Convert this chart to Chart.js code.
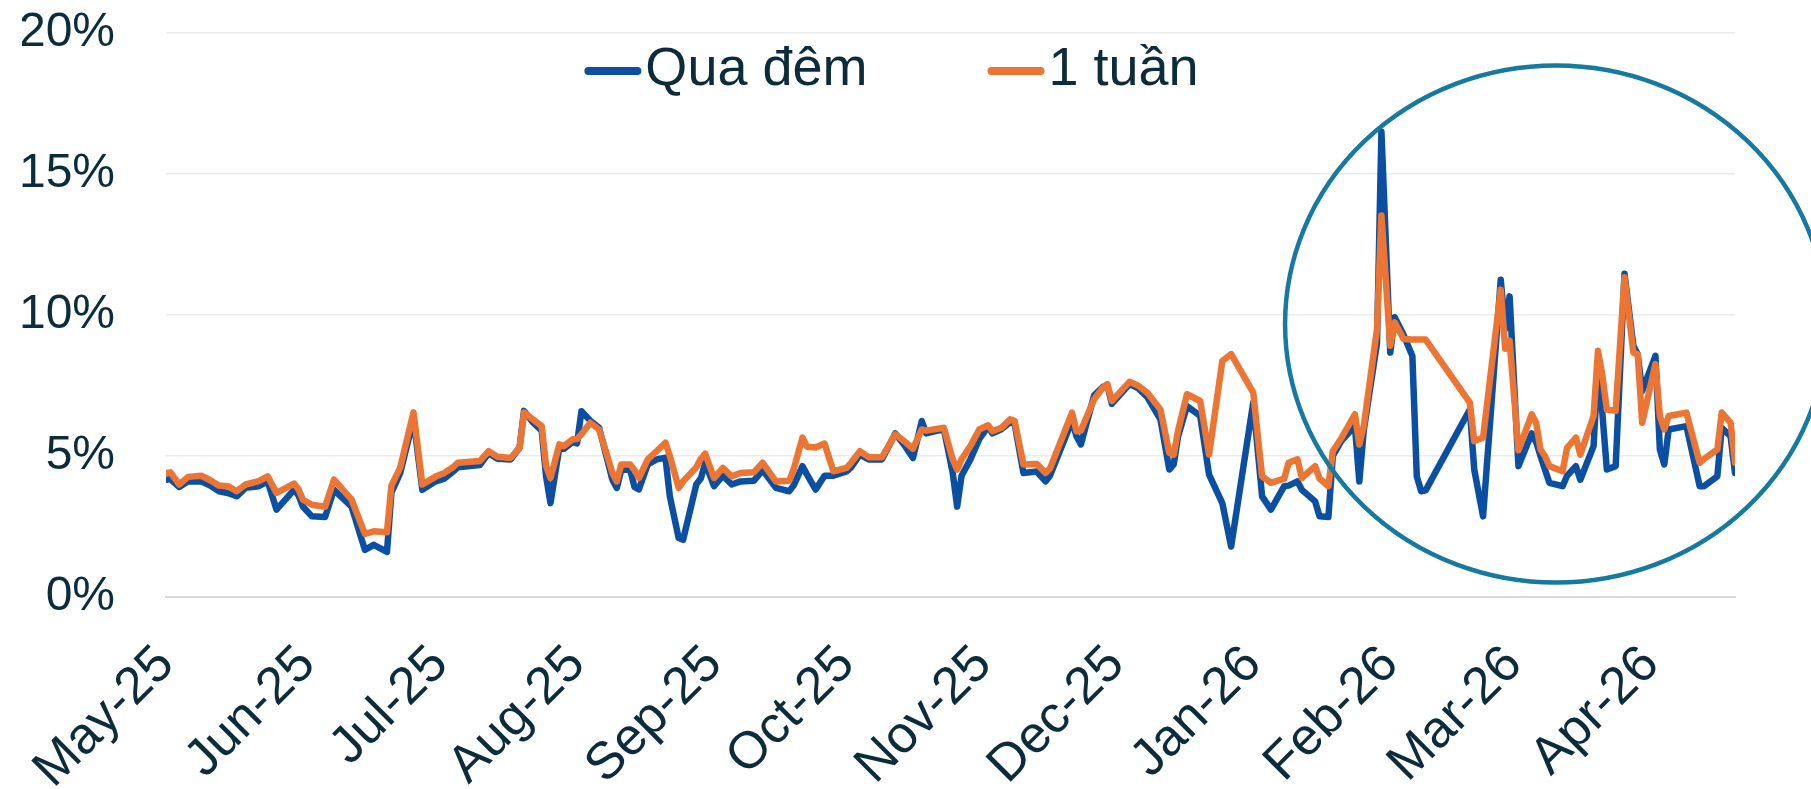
<!DOCTYPE html>
<html>
<head>
<meta charset="utf-8">
<script src="https://cdn.jsdelivr.net/npm/chart.js@4/dist/chart.umd.min.js"></script>
<style>
  html, body { margin: 0; padding: 0; background: #fff; }
  #chart { display: block; }
</style>
</head>
<body>
<canvas id="chart" width="1811" height="789"></canvas>
<script>
// days counted from 30 Apr 2025
var days = [0,1,3,5,8,10,12,14,16,18,21,23,25,29,30,31,33,36,38,42,45,47,50,51,53,56,58,61,
  63,65,66,71,73,75,78,80,81,83,85,86,87,89,90,92,93,94,96,98,101,102,103,105,106,107,109,111,113,114,116,117,
  120,121,122,124,126,128,130,133,135,138,141,142,144,145,147,149,151,154,155,157,159,162,165,167,169,171,172,176,178,179,180,
  182,184,186,187,189,191,192,194,197,199,200,205,206,207,210,212,213,214,218,220,222,225,227,228,229,231,234,236,239,241,
  246,248,250,253,254,256,257,260,261,263,264,266,269,270,271,274,275,277,278,280,282,283,284,285,
  295,296,298,302,303,304,306,309,310,311,312,313,316,317,319,320,323,324,325,326,328,330,332,333,334,337,338,339,340,344,347,348,351,352,354,355];

// Qua đêm (overnight), %
var overnight = [4.16,4.18,3.90,4.10,4.10,3.95,3.75,3.69,3.57,3.87,3.93,4.10,3.10,3.81,3.60,3.20,2.86,2.84,3.80,3.20,1.67,1.85,1.60,3.70,4.40,6.30,3.80,4.10,
  4.20,4.45,4.60,4.68,5.10,4.90,4.88,5.30,6.60,6.20,5.90,4.27,3.33,5.30,5.25,5.50,5.45,6.59,6.25,6.00,4.16,3.87,4.50,4.52,3.90,3.82,4.70,4.88,4.94,3.57,2.09,2.03,
  4.00,4.20,4.76,3.93,4.30,3.99,4.10,4.12,4.50,3.87,3.75,3.95,4.64,4.35,3.81,4.30,4.30,4.45,4.60,5.05,4.88,4.88,5.80,5.40,4.93,6.24,5.80,5.95,4.40,3.21,4.30,
  4.88,5.60,6.05,5.80,5.95,6.20,6.15,4.40,4.45,4.10,4.30,6.25,5.70,5.41,7.15,7.45,7.50,6.85,7.55,7.40,7.10,6.30,4.52,4.70,5.70,6.77,6.42,4.34,3.33,1.79,
  6.90,3.57,3.10,3.93,3.95,4.10,3.80,3.39,2.86,2.84,5.00,5.55,6.06,4.10,5.90,9.00,16.50,8.67,9.92,9.30,8.55,4.28,3.75,3.78,
  6.65,4.52,2.86,11.25,9.50,10.66,4.64,5.80,5.50,5.00,4.52,4.05,3.93,4.30,4.64,4.16,5.35,8.20,6.50,4.52,4.64,11.46,8.91,8.60,7.30,8.55,5.23,4.70,5.94,6.06,3.93,3.93,4.28,6.00,5.70,4.40];

// 1 tuần (one week), %
var oneWeek = [4.40,4.42,3.99,4.26,4.30,4.14,3.95,3.93,3.75,3.99,4.11,4.28,3.69,4.02,3.81,3.45,3.27,3.20,4.16,3.45,2.24,2.33,2.30,3.95,4.59,6.55,3.99,4.27,
  4.40,4.61,4.76,4.82,5.17,4.97,4.93,5.29,6.54,6.30,6.06,4.64,4.22,5.41,5.35,5.59,5.60,5.77,6.18,5.94,4.40,4.10,4.70,4.70,4.50,4.22,4.88,5.17,5.47,5.00,3.87,4.10,
  4.60,4.90,5.08,4.22,4.58,4.28,4.40,4.42,4.76,4.10,4.12,4.52,5.65,5.33,5.30,5.44,4.46,4.58,4.76,5.17,4.96,4.96,5.77,5.53,5.26,5.94,5.90,6.00,4.88,4.52,4.88,
  5.35,5.94,6.09,5.88,6.00,6.30,6.25,4.70,4.72,4.40,4.55,6.54,5.88,5.90,7.01,7.43,7.55,6.95,7.63,7.49,7.25,6.65,5.11,5.05,5.90,7.19,6.95,5.05,8.37,8.61,
  7.25,4.28,4.05,4.20,4.76,4.88,4.22,4.64,4.20,3.93,5.17,5.65,6.48,5.41,6.06,9.50,13.53,8.91,9.74,9.15,9.13,9.13,9.13,9.13,
  6.89,5.53,5.65,10.90,8.80,9.09,5.20,6.48,6.18,5.23,5.00,4.64,4.46,5.29,5.65,5.05,6.42,8.73,7.84,6.65,6.60,11.34,8.67,8.60,6.18,8.26,6.42,5.94,6.42,6.54,4.76,4.90,5.23,6.54,6.18,4.76];

var monthTicks = [0,32,62,93,124,154,185,215,246,277,305,336];
var monthLabels = ['May-25','Jun-25','Jul-25','Aug-25','Sep-25','Oct-25','Nov-25','Dec-25','Jan-26','Feb-26','Mar-26','Apr-26'];
var yTicks = [0,5,10,15,20];

// highlighted area: centre and half-size in (day, %)
var ringCentre = [314.5, 9.68];
var ringRadius = [61.3, 9.17];

var blue = '#0b4fa2';
var orange = '#ed7533';
var ink = '#0c2c3c';
var fontFamily = '"Liberation Sans", Arial, sans-serif';

function toPoints(vals) {
  return days.map(function (d, i) { return {x: d, y: vals[i]}; });
}

var ringPlugin = {
  id: 'ring',
  afterDatasetsDraw: function (chart) {
    var xs = chart.scales.x, ys = chart.scales.y, ctx = chart.ctx;
    var cx = xs.getPixelForValue(ringCentre[0]);
    var cy = ys.getPixelForValue(ringCentre[1]);
    var rx = Math.abs(xs.getPixelForValue(ringCentre[0] + ringRadius[0]) - cx);
    var ry = Math.abs(ys.getPixelForValue(ringCentre[1] + ringRadius[1]) - cy);
    ctx.save();
    ctx.strokeStyle = '#1579a0';
    ctx.lineWidth = 4.5;
    ctx.beginPath();
    ctx.ellipse(cx, cy, rx, ry, 0, 0, Math.PI * 2);
    ctx.stroke();
    ctx.restore();
  }
};

var legendPlugin = {
  id: 'topLegend',
  afterDraw: function (chart) {
    var ctx = chart.ctx;
    var lineLen = 57, gap = 4, itemGap = 120;
    ctx.save();
    ctx.font = '54px ' + fontFamily;
    ctx.textBaseline = 'middle';
    var sets = chart.data.datasets;
    var total = 0;
    sets.forEach(function (ds, i) {
      total += lineLen + gap + ctx.measureText(ds.label).width + (i ? itemGap : 0);
    });
    var x = chart.width / 2 - total / 2 - 14;
    var y = 71;
    sets.forEach(function (ds) {
      ctx.strokeStyle = ds.borderColor;
      ctx.lineWidth = 8;
      ctx.lineCap = 'round';
      ctx.beginPath();
      ctx.moveTo(x + 4, y);
      ctx.lineTo(x + lineLen - 4, y);
      ctx.stroke();
      ctx.fillStyle = ink;
      ctx.fillText(ds.label, x + lineLen + gap, y - 1);
      x += lineLen + gap + ctx.measureText(ds.label).width + itemGap;
    });
    ctx.restore();
  }
};

new Chart(document.getElementById('chart'), {
  type: 'line',
  data: {
    datasets: [
      { label: 'Qua đêm', data: toPoints(overnight), borderColor: blue, backgroundColor: blue, borderWidth: 6.5, order: 1 },
      { label: '1 tuần', data: toPoints(oneWeek), borderColor: orange, backgroundColor: orange, borderWidth: 6.5, order: 0 }
    ]
  },
  options: {
    responsive: false,
    animation: false,
    devicePixelRatio: 1,
    layout: { padding: { left: 22, right: 76, top: 33, bottom: 0 } },
    plugins: { legend: { display: false }, tooltip: { enabled: false } },
    elements: {
      point: { radius: 0 },
      line: { tension: 0, borderJoinStyle: 'round', borderCapStyle: 'round', fill: false }
    },
    scales: {
      x: {
        type: 'linear',
        min: 0,
        max: 355,
        afterBuildTicks: function (axis) {
          axis.ticks = monthTicks.map(function (v) { return {value: v}; });
        },
        afterFit: function (axis) {
          axis.height = 192;
          axis.paddingLeft = 0;
          axis.paddingRight = 0;
        },
        grid: { display: false, drawTicks: false },
        border: { display: true, color: '#d9d9d9', width: 2 },
        ticks: {
          autoSkip: false,
          maxRotation: 45,
          minRotation: 45,
          padding: 37,
          color: ink,
          font: { family: fontFamily, size: 52 },
          callback: function (v) {
            var i = monthTicks.indexOf(v);
            return i < 0 ? '' : monthLabels[i];
          }
        }
      },
      y: {
        min: 0,
        max: 20,
        afterBuildTicks: function (axis) {
          axis.ticks = yTicks.map(function (v) { return {value: v}; });
        },
        afterFit: function (axis) {
          axis.width = 144;
          axis.paddingTop = 0;
          axis.paddingBottom = 0;
        },
        grid: { color: '#ececec', lineWidth: 1.5, drawTicks: false },
        border: { display: false },
        ticks: {
          padding: 51,
          color: ink,
          font: { family: fontFamily, size: 48 },
          callback: function (v) { return v + '%'; }
        }
      }
    }
  },
  plugins: [ringPlugin, legendPlugin]
});
</script>
</body>
</html>
